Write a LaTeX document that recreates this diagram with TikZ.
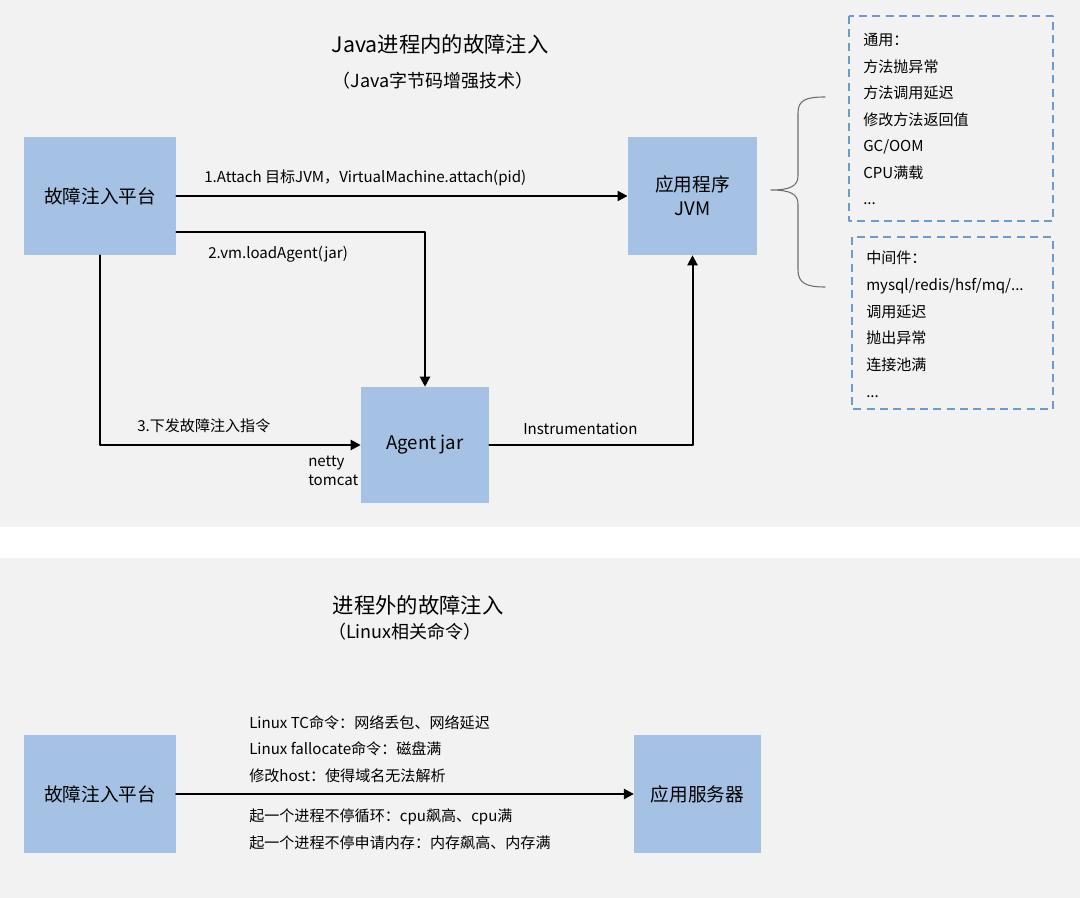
\documentclass[tikz,border=0pt]{standalone}
\usepackage{fontspec}
\setmainfont{Noto Sans CJK SC}
\usetikzlibrary{arrows.meta}
\definecolor{boxblue}{RGB}{165,194,228}
\definecolor{bggray}{RGB}{242,242,242}
\definecolor{dashblue}{RGB}{108,155,206}
\definecolor{bracegray}{RGB}{110,110,110}
\newcommand{\tdots}{...}

\begin{document}
\begin{tikzpicture}[x=0.75pt, y=-0.75pt, line cap=round, line join=round, >={Triangle[length=7.5pt,width=7.5pt]},
  box/.style={fill=boxblue, minimum height=88.5pt, align=center, inner sep=0pt, font=\fontsize{14}{18}\selectfont},
  lbl/.style={anchor=base west, inner sep=0pt, font=\fontsize{11.3}{13}\selectfont},
  arr/.style={->, line width=1.5pt},
  dashbox/.style={draw=dashblue, line width=1.3pt, line cap=butt, dash pattern=on 6pt off 4pt}]

\useasboundingbox (0,0) rectangle (1080,898);
\fill[bggray] (0,0) rectangle (1080,898);
\fill[white] (0,527) rectangle (1080,558);

% in-process injection
\node[font=\fontsize{16}{19}\selectfont] (title1) at (440,44) {Java进程内的故障注入};
\node[font=\fontsize{13.5}{16}\selectfont] (sub1) at (433,81) {（Java字节码增强技术）};

\node[box, minimum width=114pt] (plat) at (100,196) {故障注入平台};
\node[box, minimum width=97pt] (jvm) at (692.5,196) {应用程序\\JVM};
\node[box, minimum width=96pt, minimum height=87pt] (agent) at (425,445) {Agent jar};

\coordinate (load) at (0,232);
\draw[arr] (plat) -- (jvm);
\draw[arr] (plat.east |- load) -| (agent);
\draw[arr] (plat) |- (agent);
\draw[arr] (agent) -| (jvm);

\node[lbl] (attach) at (204,183) {1.Attach 目标JVM，VirtualMachine.attach(pid)};
\node[lbl] (loadagent) at (208,259) {2.vm.loadAgent(jar)};
\node[lbl] (order) at (137,431) {3.下发故障注入指令};
\node[lbl] (netty) at (308,466) {netty};
\node[lbl] (tomcat) at (308,485) {tomcat};
\node[lbl] (instr) at (523,434) {Instrumentation};

\draw[bracegray, line width=0.8pt] (825,97) .. controls (806,97) and (798,100) .. (798,113) -- (798,176)
  .. controls (798,186) and (790,190) .. (771,190) .. controls (790,190) and (798,194) .. (798,204)
  -- (798,270) .. controls (798,283) and (806,287) .. (825,287);

\draw[dashbox] (849,16) rectangle (1053,221);
\draw[dashbox] (852,237) rectangle (1053,409);

\foreach \t [count=\i] in {通用：, 方法抛异常, 方法调用延迟, 修改方法返回值, GC/OOM, CPU满载, \tdots}
  \node[lbl] (common\i) at (863,19.5+26.5*\i) {\t};
\foreach \t [count=\i] in {中间件：, mysql/redis/hsf/mq/\tdots, 调用延迟, 抛出异常, 连接池满, \tdots}
  \node[lbl] (middle\i) at (866,237.4+26.6*\i) {\t};

% out-of-process injection
\node[font=\fontsize{16}{19}\selectfont] (title2) at (418,605) {进程外的故障注入};
\node[font=\fontsize{13.5}{16}\selectfont] (sub2) at (405,632) {（Linux相关命令）};

\node[box, minimum width=114pt] (plat2) at (100,794) {故障注入平台};
\node[box, minimum width=95pt] (server) at (697.5,794) {应用服务器};
\draw[arr, line width=2pt] (plat2) -- (server);

\foreach \t [count=\i] in {Linux TC命令：网络丢包、网络延迟, Linux fallocate命令：磁盘满, 修改host：使得域名无法解析}
  \node[lbl] (cmd\i) at (249,701.5+26.5*\i) {\t};
\node[lbl] (loop) at (249,821) {起一个进程不停循环：cpu飙高、cpu满};
\node[lbl] (mem) at (249,848) {起一个进程不停申请内存：内存飙高、内存满};

\end{tikzpicture}
\end{document}
